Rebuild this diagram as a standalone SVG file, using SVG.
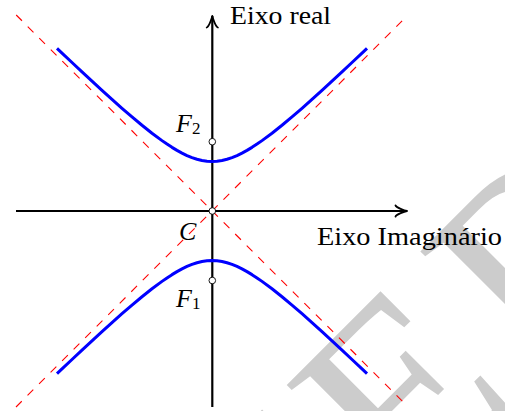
<svg xmlns="http://www.w3.org/2000/svg" width="505" height="411" viewBox="0 0 505 411">
  <style>
    .lbl { font-family: "Liberation Serif", "Times New Roman", serif; fill: #000; }
    .it { font-style: italic; }
    .axis { stroke: #000; stroke-width: 2.2; fill: none; }
    .asym { fill: none; stroke: #ff0000; stroke-width: 1.1; stroke-dasharray: 8.15 8.15; }
    .hyp { stroke: #0000ff; stroke-width: 3; fill: none; stroke-linejoin: round; }
    .pt { fill: #fff; stroke: #000; stroke-width: 0.9; }
    .wm { font-family: "Liberation Serif", "Times New Roman", serif; fill: #cccccc; }
  </style>
  <defs>
    <marker id="arrow" markerUnits="userSpaceOnUse" viewBox="-14 -8 16 16" refX="0" refY="0" markerWidth="16" markerHeight="16" orient="auto">
      <path d="M -11.5,-5.6 C -10.8,-3.5 -2.3,-0.35 0,0 C -2.3,0.35 -10.8,3.5 -11.5,5.6" fill="none" stroke="#000" stroke-width="1.8" stroke-linecap="round" stroke-linejoin="round"/>
    </marker>
  </defs>

  <g id="watermark" transform="translate(282,387) rotate(-45)">
    <text class="wm" x="-222" y="178.7" font-size="270" letter-spacing="24">VERSÃO</text>
  </g>

  <g id="connectors">
    <path id="asymptote-1" class="asym" d="M 16.2,15 L 404.2,403"/>
    <path id="asymptote-2" class="asym" d="M 16,407 L 405,18"/>
    <line id="axis-imag" class="axis" x1="16" y1="211" x2="407" y2="211" marker-end="url(#arrow)"/>
    <line id="axis-real" class="axis" x1="212.3" y1="407" x2="212.3" y2="16" marker-end="url(#arrow)"/>
  </g>

  <g id="upper-branch">
    <path class="hyp" d="M57,48.29 L62,53.04 L72,62.51 L82,71.90 L92,81.19 L102,90.38 L112,99.42 L122,108.29 L132,116.93 L142,125.27 L152,133.22 L162,140.64 L167,144.10 L172,147.36 L177,150.38 L182,153.12 L187,155.55 L192,157.61 L197,159.28 L202,160.50 L207,161.25 L212,161.50 L217,161.25 L222,160.50 L227,159.28 L232,157.61 L237,155.55 L242,153.12 L247,150.38 L252,147.36 L257,144.10 L262,140.64 L272,133.22 L282,125.27 L292,116.93 L302,108.29 L312,99.42 L322,90.38 L332,81.19 L342,71.90 L352,62.51 L362,53.04 L367,48.29"/>
  </g>
  <g id="lower-branch">
    <path class="hyp" d="M57,373.71 L62,368.96 L72,359.49 L82,350.10 L92,340.81 L102,331.62 L112,322.58 L122,313.71 L132,305.07 L142,296.73 L152,288.78 L162,281.36 L167,277.90 L172,274.64 L177,271.62 L182,268.88 L187,266.45 L192,264.39 L197,262.72 L202,261.50 L207,260.75 L212,260.50 L217,260.75 L222,261.50 L227,262.72 L232,264.39 L237,266.45 L242,268.88 L247,271.62 L252,274.64 L257,277.90 L262,281.36 L272,288.78 L282,296.73 L292,305.07 L302,313.71 L312,322.58 L322,331.62 L332,340.81 L342,350.10 L352,359.49 L362,368.96 L367,373.71"/>
  </g>

  <g id="label-real">
    <text class="lbl" x="230" y="24" font-size="26" textLength="101" lengthAdjust="spacingAndGlyphs">Eixo real</text>
  </g>
  <g id="label-imag">
    <text class="lbl" x="317" y="245" font-size="26" textLength="185" lengthAdjust="spacingAndGlyphs">Eixo Imaginário</text>
  </g>

  <g id="node-F2">
    <circle class="pt" cx="212.3" cy="141.7" r="3.3"/>
    <text class="lbl" x="176" y="131.5" font-size="26"><tspan class="it">F</tspan><tspan font-size="17" dy="2.5">2</tspan></text>
  </g>
  <g id="node-C">
    <circle class="pt" cx="212.3" cy="211" r="3.3"/>
    <text class="lbl it" x="179" y="240" font-size="26">C</text>
  </g>
  <g id="node-F1">
    <circle class="pt" cx="212.3" cy="280.5" r="3.3"/>
    <text class="lbl" x="176" y="306.5" font-size="26"><tspan class="it">F</tspan><tspan font-size="17" dy="2.5">1</tspan></text>
  </g>
</svg>
